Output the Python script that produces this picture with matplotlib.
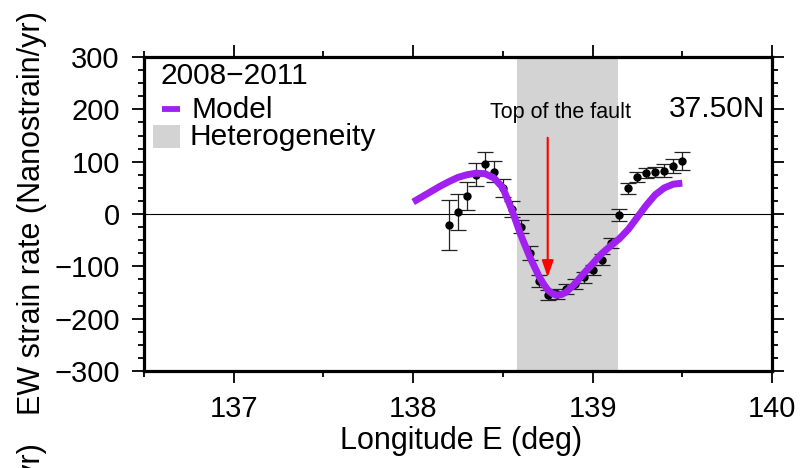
import matplotlib
matplotlib.use("Agg")
import matplotlib.pyplot as plt
from matplotlib.ticker import MultipleLocator
from matplotlib.patches import Rectangle

plt.rcParams['font.family'] = ['Liberation Sans', 'DejaVu Sans']

# ---- data ----
obs_lon = [138.20, 138.25, 138.30, 138.35, 138.40, 138.45, 138.50, 138.55, 138.60,
           138.65, 138.70, 138.75, 138.80, 138.85, 138.90, 138.95, 139.00, 139.05,
           139.10, 139.15, 139.20, 139.25, 139.30, 139.35, 139.40, 139.45, 139.50]
obs_val = [-21, 4, 35, 75, 96, 81, 49, 10, -24, -74, -128, -155, -153, -143, -134,
           -121, -107, -87, -55, -2, 49, 71, 78, 80, 83, 92, 102]
obs_err = [47, 35, 27, 22, 22, 20, 17, 15, 13, 13, 12, 10, 10, 10, 10, 10, 10, 10,
           10, 12, 10, 9, 9, 10, 12, 14, 17]

model_lon = [138.00, 138.05, 138.10, 138.15, 138.20, 138.25, 138.30, 138.35, 138.40,
             138.45, 138.50, 138.55, 138.60, 138.65, 138.70, 138.725, 138.75, 138.775,
             138.80, 138.825, 138.85, 138.90, 138.95, 139.00, 139.05, 139.10, 139.15,
             139.20, 139.25, 139.30, 139.35, 139.40, 139.45, 139.50]
model_val = [23, 33, 43, 53, 62, 70, 75, 78, 77, 69, 50, 8, -40, -82, -118, -133,
             -145, -152, -155, -154, -150, -134, -114, -95, -76, -61, -47, -29, -6,
             17, 37, 50, 57, 59]

hetero_span = (138.58, 139.14)
fault_top_lon = 138.75
arrow_from, arrow_to = 151, -126

xlim = (136.5, 140.0)
ylim = (-300, 300)
xticks = [137, 138, 139, 140]
yticks = [-300, -200, -100, 0, 100, 200, 300]

PURPLE = '#a020f0'
GRAY = '#d3d3d3'

# ---- figure ----
fig = plt.figure(figsize=(8.02, 4.68), dpi=100)
ax = fig.add_axes([144/802, 1 - 371/468, (772-144)/802, (371-57)/468])

ax.axvspan(*hetero_span, color=GRAY, lw=0, zorder=0)
ax.axhline(0, color='black', lw=0.8, zorder=1)
ax.errorbar(obs_lon, obs_val, yerr=obs_err, fmt='o', color='black', ms=5,
            ecolor='#222222', elinewidth=0.9, capsize=5.5, capthick=0.9, zorder=2)
ax.plot(model_lon, model_val, color=PURPLE, lw=5, solid_capstyle='butt',
        solid_joinstyle='round', zorder=3)

ax.annotate('', xy=(fault_top_lon, arrow_to), xytext=(fault_top_lon, arrow_from),
            arrowprops=dict(arrowstyle='-|>,head_length=1.0,head_width=0.35',
                            color='red', lw=1.5), zorder=4)
ax.text(fault_top_lon + 0.07, 193, 'Top of the fault', ha='center', va='center',
        fontsize=15.5, zorder=5)
ax.text(0.989, 0.834, '37.50N', transform=ax.transAxes, ha='right', va='center',
        fontsize=21.5)

ax.set_xlim(*xlim)
ax.set_ylim(*ylim)
ax.set_xticks(xticks)
ax.set_yticks(yticks)
ax.set_yticklabels([str(v).replace('-', '\u2212') for v in yticks])
ax.xaxis.set_minor_locator(MultipleLocator(0.5))
ax.yaxis.set_minor_locator(MultipleLocator(25))
ax.tick_params(which='both', direction='out', top=True, right=True, width=1.3,
               labelsize=21)
ax.tick_params(which='major', length=8.5, pad=9)
ax.tick_params(which='minor', length=4)
for sp in ax.spines.values():
    sp.set_linewidth(2.3)

# legend-like block (axes-fraction positions from pixel layout)
def axfx(px):
    return (px - 144) / 628
def axfy(py):
    return (371 - py) / 314

ax.text(axfx(160), axfy(76), '2008\u22122011', transform=ax.transAxes, ha='left',
        va='center', fontsize=21.5)
ax.plot([axfx(162), axfx(180)], [axfy(109), axfy(109)], transform=ax.transAxes,
        color=PURPLE, lw=4.2, solid_capstyle='butt', clip_on=False)
ax.text(axfx(191), axfy(110), 'Model', transform=ax.transAxes, ha='left',
        va='center', fontsize=21.5)
ax.add_patch(Rectangle((axfx(153), axfy(148)), axfx(180) - axfx(153),
                       axfy(125) - axfy(148), transform=ax.transAxes,
                       facecolor=GRAY, edgecolor='none'))
ax.text(axfx(189), axfy(137), 'Heterogeneity', transform=ax.transAxes, ha='left',
        va='center', fontsize=21.5)

fig.text(461/802, 1 - 441/468, 'Longitude E (deg)', ha='center', va='center',
         fontsize=22)
fig.text(32/802, 1 - 213/468, 'EW strain rate (Nanostrain/yr)', ha='center',
         va='center', rotation=90, fontsize=22)
fig.text(32/802, 1 - 443/468, 'EW strain rate (Nanostrain/yr)', ha='center',
         va='top', rotation=90, fontsize=22)

fig.savefig('out.png', dpi=100)
